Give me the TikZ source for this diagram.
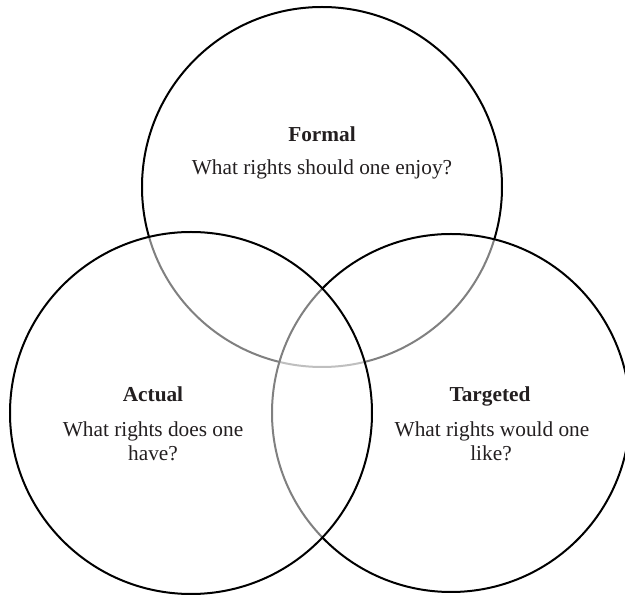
\documentclass[tikz,border=0pt]{standalone}
\usepackage{fontspec}
\setmainfont{Liberation Serif}
\definecolor{ink}{HTML}{231F20}
\begin{document}
\begin{tikzpicture}[x=1pt,y=1pt,
  ring/.style={circle, draw=black, line width=2pt, fill=white, fill opacity=0.5, draw opacity=1, inner sep=0pt, outer sep=0pt, minimum size=#1},
  head/.style={anchor=base, text=ink, font=\fontsize{21.3}{24}\selectfont\bfseries, inner sep=0pt},
  ques/.style={anchor=base, text=ink, font=\fontsize{21.3}{24}\selectfont, inner sep=0pt}]
\clip (0,0) rectangle (625,595);
\fill[white] (0,0) rectangle (625,595);
% drawing order: top, right, left (later fills fade earlier strokes)
\node[ring=360pt] (formal) at (322,408) {};
\node[ring=358pt] (targeted) at (451,182) {};
\node[ring=362pt] (actual) at (191,182) {};
% texts
\node[head] (formalh) at (322,453) {Formal};
\node[ques] (formalq) at (322,420) {What rights should one enjoy?};
\node[head] (actualh) at (153,193) {Actual};
\node[ques] (actualq1) at (153,158) {What rights does one};
\node[ques] (actualq2) at (153,134) {have?};
\node[head] (targh) at (490,193) {Targeted};
\node[ques] (targq1) at (492,158) {What rights would one};
\node[ques] (targq2) at (491,134) {like?};
\end{tikzpicture}
\end{document}
